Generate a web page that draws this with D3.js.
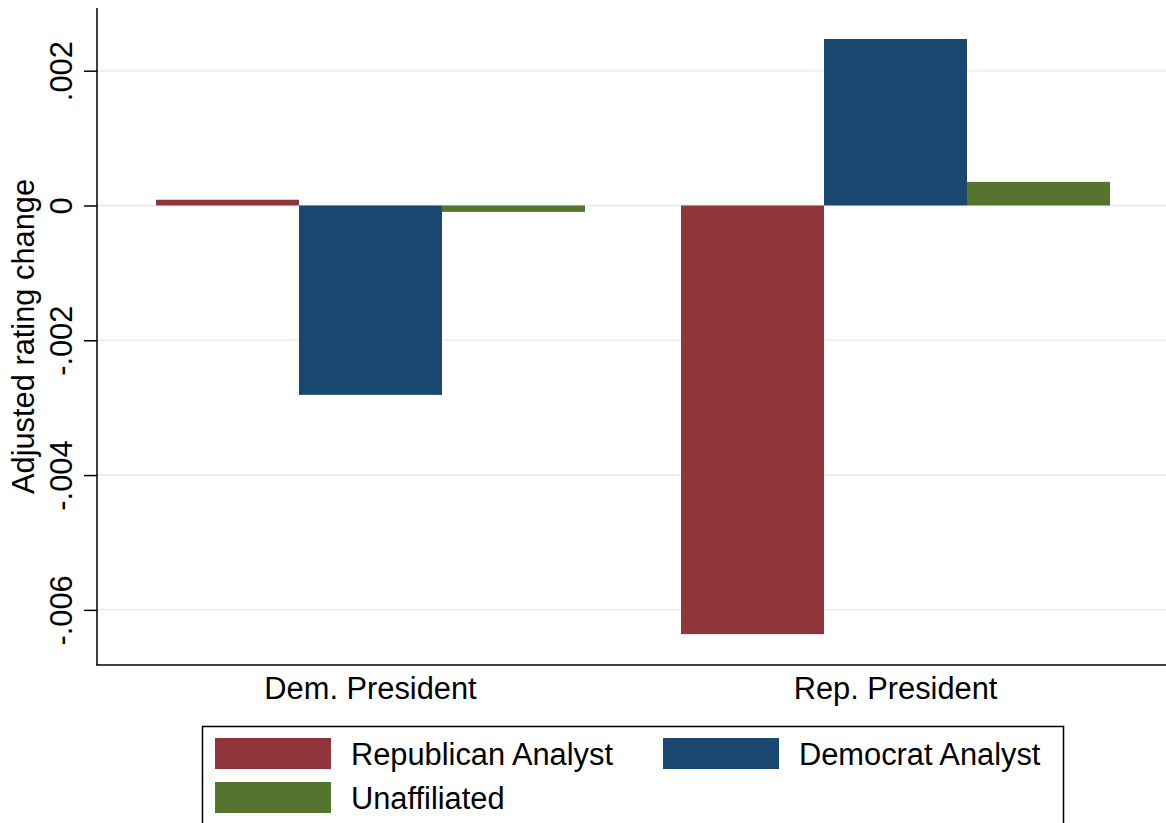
<!DOCTYPE html>
<html>
<head>
<meta charset="utf-8">
<script src="https://cdn.jsdelivr.net/npm/d3@7/dist/d3.min.js"></script>
<style>
  html, body { margin: 0; padding: 0; background: #fff; }
  svg { display: block; font-family: "Liberation Sans", Arial, sans-serif; }
</style>
</head>
<body>
<svg id="chart" width="1166" height="823"></svg>
<script>
// Adjusted rating change by analyst affiliation and president's party
const categories = ["Dem. President", "Rep. President"];
const seriesNames = ["Republican Analyst", "Democrat Analyst", "Unaffiliated"];
const republicanAnalyst = [0.000085, -0.00636];
const democratAnalyst = [-0.00281, 0.00247];
const unaffiliated = [-0.000095, 0.00035];
const yTickValues = [-0.006, -0.004, -0.002, 0, 0.002];
const yTickLabels = ["-.006", "-.004", "-.002", "0", ".002"];
const seriesColors = ["#90353B", "#1A476F", "#55752F"];

const seriesValues = [republicanAnalyst, democratAnalyst, unaffiliated];
const rows = [];
categories.forEach((c, i) => {
  seriesNames.forEach((s, j) => rows.push({ category: c, series: s, value: seriesValues[j][i], color: seriesColors[j] }));
});

const fontSize = 30.8;
const svg = d3.select("#chart");
const plot = { left: 97, right: 1169, top: 8, bottom: 665 };

const y = d3.scaleLinear()
  .domain([-0.006818, 0.00293])
  .range([plot.bottom, plot.top]);

const x0 = d3.scaleBand()
  .domain(categories)
  .range([plot.left, plot.right])
  .paddingInner(0.1829)
  .paddingOuter(0.1124);

const x1 = d3.scaleBand()
  .domain(seriesNames)
  .range([0, x0.bandwidth()])
  .padding(0);

// grid lines
svg.append("g")
  .selectAll("line")
  .data(yTickValues)
  .join("line")
  .attr("x1", plot.left)
  .attr("x2", plot.right)
  .attr("y1", d => y(d))
  .attr("y2", d => y(d))
  .attr("stroke", "#e9eff1")
  .attr("stroke-width", 2);

// bars
svg.append("g")
  .selectAll("rect")
  .data(rows)
  .join("rect")
  .attr("x", d => x0(d.category) + x1(d.series))
  .attr("width", x1.bandwidth())
  .attr("y", d => Math.min(y(d.value), y(0)))
  .attr("height", d => Math.abs(y(d.value) - y(0)))
  .attr("fill", d => d.color);

// y axis
const yAxis = d3.axisLeft(y)
  .tickValues(yTickValues)
  .tickFormat((d, i) => yTickLabels[i])
  .tickSize(13)
  .tickPadding(12);

const gy = svg.append("g")
  .attr("transform", `translate(${plot.left},0)`)
  .call(yAxis);
gy.select(".domain").remove();
gy.selectAll(".tick line").attr("stroke", "#000").attr("stroke-width", 1.5);
gy.selectAll(".tick text")
  .attr("font-size", fontSize)
  .attr("font-family", "'Liberation Sans', Arial, sans-serif")
  .attr("fill", "#000")
  .attr("text-anchor", "middle")
  .attr("x", null)
  .attr("dy", null)
  .attr("transform", "translate(-25,0) rotate(-90)")
  .attr("y", 0);

svg.append("line")
  .attr("x1", plot.left).attr("x2", plot.left)
  .attr("y1", plot.top).attr("y2", plot.bottom)
  .attr("stroke", "#000").attr("stroke-width", 1.5);

// x axis
const xAxis = d3.axisBottom(x0).tickSize(0).tickPadding(0);
const gx = svg.append("g")
  .attr("transform", `translate(0,${plot.bottom})`)
  .call(xAxis);
gx.select(".domain").remove();
gx.selectAll(".tick text")
  .attr("font-size", fontSize)
  .attr("font-family", "'Liberation Sans', Arial, sans-serif")
  .attr("fill", "#000")
  .attr("dy", null)
  .attr("y", 34);

svg.append("line")
  .attr("x1", plot.left - 0.75).attr("x2", plot.right)
  .attr("y1", plot.bottom).attr("y2", plot.bottom)
  .attr("stroke", "#000").attr("stroke-width", 1.5);

// y axis title
svg.append("text")
  .attr("transform", `translate(34,${(plot.top + plot.bottom) / 2}) rotate(-90)`)
  .attr("text-anchor", "middle")
  .attr("font-size", fontSize)
  .attr("fill", "#000")
  .text("Adjusted rating change");

// legend
const legend = svg.append("g");
legend.append("rect")
  .attr("x", 202.5).attr("y", 726.5)
  .attr("width", 861).attr("height", 110)
  .attr("fill", "#fff")
  .attr("stroke", "#000")
  .attr("stroke-width", 1.5);

const legendPos = [
  { sx: 215, tx: 351, sy: 738, ty: 765 },
  { sx: 663, tx: 799, sy: 738, ty: 765 },
  { sx: 215, tx: 351, sy: 782, ty: 809 }
];
const items = legend.selectAll("g.item")
  .data(seriesNames)
  .join("g")
  .attr("class", "item");
items.append("rect")
  .attr("x", (d, i) => legendPos[i].sx)
  .attr("y", (d, i) => legendPos[i].sy)
  .attr("width", 116)
  .attr("height", 31)
  .attr("fill", (d, i) => seriesColors[i]);
items.append("text")
  .attr("x", (d, i) => legendPos[i].tx)
  .attr("y", (d, i) => legendPos[i].ty)
  .attr("font-size", fontSize)
  .attr("fill", "#000")
  .text(d => d);
</script>
</body>
</html>
